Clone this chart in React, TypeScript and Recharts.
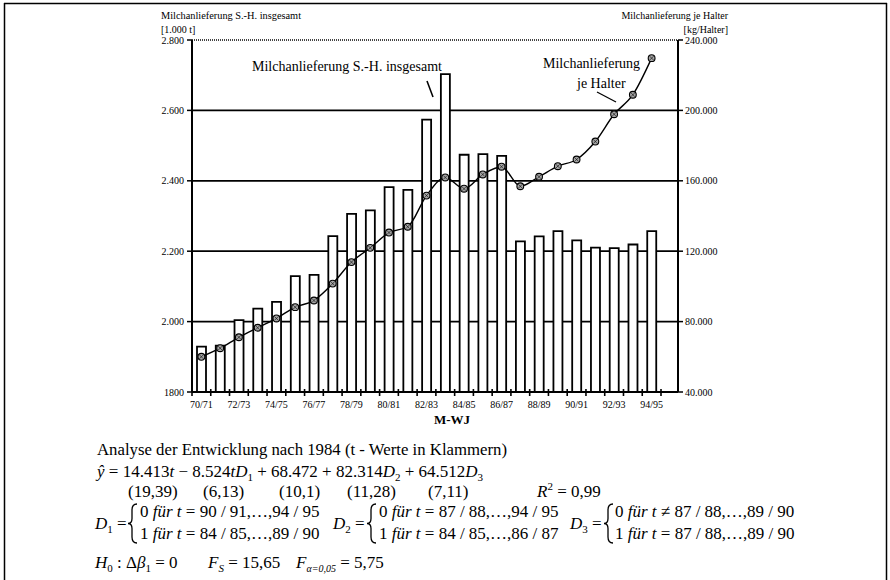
import React from "react";
import { ComposedChart, Bar, Line, XAxis, YAxis, CartesianGrid } from "recharts";

const SERIF = "'Liberation Serif', 'DejaVu Serif', serif";

const years = [
  "70/71", "71/72", "72/73", "73/74", "74/75", "75/76", "76/77", "77/78", "78/79", "79/80",
  "80/81", "81/82", "82/83", "83/84", "84/85", "85/86", "86/87", "87/88", "88/89", "89/90",
  "90/91", "91/92", "92/93", "93/94", "94/95",
];
// Milchanlieferung S.-H. insgesamt [1.000 t]
const totalDelivery = [
  1929, 1932, 2004, 2037, 2056, 2129, 2133, 2243, 2306, 2316,
  2382, 2374, 2574, 2703, 2474, 2476, 2471, 2228, 2242, 2257,
  2231, 2210, 2209, 2219, 2257,
];
// Milchanlieferung je Halter [kg/Halter]
const perHolder = [
  60000, 64900, 71100, 76500, 81800, 88200, 92000, 101600, 113800, 121900,
  130600, 133900, 151600, 161900, 155500, 163600, 168000, 156900, 162300, 168300,
  172100, 182300, 197800, 208900, 229700,
];
const leftTicks = [1800, 2000, 2200, 2400, 2600, 2800];
const leftTickLabels = ["1800", "2.000", "2.200", "2.400", "2.600", "2.800"];
const rightTicks = [40000, 80000, 120000, 160000, 200000, 240000];
const rightTickLabels = ["40.000", "80.000", "120.000", "160.000", "200.000", "240.000"];

const data = years.map((y, i) => ({ year: y, total: totalDelivery[i], holder: perHolder[i] }));

const XTick = (props: any) => {
  const { x, y, payload } = props;
  const off = payload && typeof payload.offset === "number" ? payload.offset : 9.38;
  const i = payload && typeof payload.index === "number" ? payload.index : props.index;
  const isLast = i === years.length - 1;
  return (
    <g>
      <line x1={x - off} x2={x - off} y1={y - 3} y2={y + 4} stroke="#000" strokeWidth={1.6} />
      {isLast && <line x1={x + off} x2={x + off} y1={y - 3} y2={y + 4} stroke="#000" strokeWidth={1.6} />}
      {i % 2 === 0 && (
        <text x={x} y={y + 16} textAnchor="middle" fontSize={10} fontFamily={SERIF} fill="#000">
          {payload.value}
        </text>
      )}
    </g>
  );
};

const GridLine = (p: any) => {
  const top = typeof p.y === "number" ? Math.abs(p.y1 - p.y) < 1 : p.index === leftTicks.length - 1;
  return (
    <line
      key={p.key}
      x1={p.x1}
      x2={p.x2}
      y1={p.y1}
      y2={p.y2}
      stroke={top ? "#444" : "#000"}
      strokeWidth={top ? 2 : 1.8}
      strokeDasharray={top ? "1 1" : undefined}
    />
  );
};

const Marker = (p: any) => (
  <g key={`m-${p.index}`}>
    <circle cx={p.cx} cy={p.cy} r={3.4} fill="#a5a5a5" stroke="#000" strokeWidth={1.1} />
    <line x1={p.cx - 2} y1={p.cy - 2} x2={p.cx + 2} y2={p.cy + 2} stroke="#000" strokeWidth={0.6} />
    <line x1={p.cx - 2} y1={p.cy + 2} x2={p.cx + 2} y2={p.cy - 2} stroke="#000" strokeWidth={0.6} />
  </g>
);

const Brace = ({ x, top, bottom }: { x: number; top: number; bottom: number }) => {
  const mid = (top + bottom) / 2;
  const d = `M ${x + 9} ${top} Q ${x + 4} ${top} ${x + 4} ${top + 6} L ${x + 4} ${mid - 5} Q ${x + 4} ${mid} ${x} ${mid} Q ${x + 4} ${mid} ${x + 4} ${mid + 5} L ${x + 4} ${bottom - 6} Q ${x + 4} ${bottom} ${x + 9} ${bottom}`;
  return <path d={d} fill="none" stroke="#000" strokeWidth={1.3} />;
};

const FS = 17;

const DRow = ({ x, sub, braceX, rowX, row0, row1 }: any) => (
  <g>
    <text x={x} y={529} fontSize={FS} fontFamily={SERIF} style={{ whiteSpace: "pre" }}>
      <tspan fontStyle="italic">D</tspan>
      <tspan fontSize={11} dy={4}>{sub}</tspan>
      <tspan dy={-4}> =</tspan>
    </text>
    <Brace x={braceX} top={504} bottom={543} />
    <text x={rowX} y={517} fontSize={FS} fontFamily={SERIF} style={{ whiteSpace: "pre" }}>
      <tspan>0 </tspan>
      <tspan fontStyle="italic">für t</tspan>
      <tspan>{row0}</tspan>
    </text>
    <text x={rowX} y={539} fontSize={FS} fontFamily={SERIF} style={{ whiteSpace: "pre" }}>
      <tspan>1 </tspan>
      <tspan fontStyle="italic">für t</tspan>
      <tspan>{row1}</tspan>
    </text>
  </g>
);

export default function App() {
  return (
    <div style={{ position: "absolute", left: 0, top: 0, width: 890, height: 580, background: "#fff" }}>
      <ComposedChart
        width={890}
        height={580}
        data={data}
        margin={{ top: 40, right: 162, bottom: 158, left: 152 }}
        barSize={9}
      >
        <CartesianGrid yAxisId="left" vertical={false} horizontal={GridLine as any} />
        <XAxis
          dataKey="year"
          interval={0}
          tickLine={false}
          tickSize={0}
          tickMargin={0}
          height={30}
          padding={{ left: 0, right: 17 }}
          axisLine={{ stroke: "#000", strokeWidth: 2 }}
          tick={<XTick />}
        />
        <YAxis
          yAxisId="left"
          orientation="left"
          width={40}
          domain={[1800, 2800]}
          ticks={leftTicks}
          tickFormatter={(v: number) => leftTickLabels[leftTicks.indexOf(v)]}
          axisLine={{ stroke: "#000", strokeWidth: 2 }}
          tickLine={{ stroke: "#000", strokeWidth: 1.5 }}
          tickSize={5}
          tickMargin={3}
          tick={{ fontSize: 10, fontFamily: SERIF, fill: "#000" }}
          allowDataOverflow
        />
        <YAxis
          yAxisId="right"
          orientation="right"
          width={50}
          domain={[40000, 240000]}
          ticks={rightTicks}
          tickFormatter={(v: number) => rightTickLabels[rightTicks.indexOf(v)]}
          axisLine={{ stroke: "#000", strokeWidth: 2 }}
          tickLine={{ stroke: "#000", strokeWidth: 1.5 }}
          tickSize={5}
          tickMargin={2}
          tick={{ fontSize: 10, fontFamily: SERIF, fill: "#000", textAnchor: "start" }}
          allowDataOverflow
        />
        <Bar
          yAxisId="left"
          dataKey="total"
          fill="#fff"
          stroke="#000"
          strokeWidth={1.8}
          isAnimationActive={false}
        />
        <Line
          yAxisId="right"
          dataKey="holder"
          type="monotone"
          stroke="#000"
          strokeWidth={1.4}
          dot={Marker as any}
          activeDot={false}
          isAnimationActive={false}
        />
      </ComposedChart>

      <svg
        width={890}
        height={580}
        style={{ position: "absolute", left: 0, top: 0, pointerEvents: "none" }}
        fontFamily={SERIF}
      >
        {/* frame */}
        <line x1={4.5} y1={3} x2={4.5} y2={580} stroke="#000" strokeWidth={1.5} />
        <line x1={4} y1={3.5} x2={887} y2={3.5} stroke="#000" strokeWidth={1.5} />
        <line x1={886.5} y1={3} x2={886.5} y2={580} stroke="#000" strokeWidth={1.5} />

        {/* axis titles */}
        <text x={161} y={19} fontSize={10} textLength={140} lengthAdjust="spacingAndGlyphs">
          Milchanlieferung S.-H. insgesamt
        </text>
        <text x={161} y={33} fontSize={10}>[1.000 t]</text>
        <text x={728} y={19} fontSize={10} textAnchor="end">Milchanlieferung je Halter</text>
        <text x={728} y={33} fontSize={10} textAnchor="end">[kg/Halter]</text>
        <text x={452} y={424} fontSize={13} fontWeight="bold" textAnchor="middle">M-WJ</text>

        {/* annotations */}
        <text x={252} y={71} fontSize={14} textLength={190} lengthAdjust="spacingAndGlyphs">
          Milchanlieferung S.-H. insgesamt
        </text>
        <line x1={427} y1={81} x2={433} y2={97} stroke="#000" strokeWidth={1.6} />
        <text x={543} y={68} fontSize={14} textLength={97} lengthAdjust="spacingAndGlyphs">
          Milchanlieferung
        </text>
        <text x={577} y={88} fontSize={14}>je Halter</text>
        <line x1={597} y1={92} x2={616} y2={102} stroke="#000" strokeWidth={1.3} />

        {/* analysis text */}
        <text x={97} y={455} fontSize={16.5} textLength={410} lengthAdjust="spacingAndGlyphs">
          Analyse der Entwicklung nach 1984 (t - Werte in Klammern)
        </text>
        <text x={97} y={477} fontSize={FS} style={{ whiteSpace: "pre" }}>
          <tspan fontStyle="italic">ŷ</tspan>
          <tspan> = 14.413</tspan>
          <tspan fontStyle="italic">t</tspan>
          <tspan> − 8.524</tspan>
          <tspan fontStyle="italic">tD</tspan>
          <tspan fontSize={11} dy={4}>1</tspan>
          <tspan dy={-4}> + 68.472 + 82.314</tspan>
          <tspan fontStyle="italic">D</tspan>
          <tspan fontSize={11} dy={4}>2</tspan>
          <tspan dy={-4}> + 64.512</tspan>
          <tspan fontStyle="italic">D</tspan>
          <tspan fontSize={11} dy={4}>3</tspan>
        </text>
        <g fontSize={FS}>
          <text x={128} y={497}>(19,39)</text>
          <text x={203} y={497}>(6,13)</text>
          <text x={279} y={497}>(10,1)</text>
          <text x={347} y={497}>(11,28)</text>
          <text x={428} y={497}>(7,11)</text>
          <text x={537} y={497} style={{ whiteSpace: "pre" }}>
            <tspan fontStyle="italic">R</tspan>
            <tspan fontSize={11} dy={-7}>2</tspan>
            <tspan dy={7}> = 0,99</tspan>
          </text>
        </g>
        <DRow x={95} sub="1" braceX={128} rowX={140} row0=" = 90 / 91,…,94 / 95" row1=" = 84 / 85,…,89 / 90" />
        <DRow x={333} sub="2" braceX={367} rowX={379} row0=" = 87 / 88,…,94 / 95" row1=" = 84 / 85,…,86 / 87" />
        <DRow x={570} sub="3" braceX={604} rowX={615} row0=" ≠ 87 / 88,…,89 / 90" row1=" = 87 / 88,…,89 / 90" />
        <text x={95} y={568} fontSize={FS} style={{ whiteSpace: "pre" }}>
          <tspan fontStyle="italic">H</tspan>
          <tspan fontSize={11} dy={4}>0</tspan>
          <tspan dy={-4}> : Δ</tspan>
          <tspan fontStyle="italic">β</tspan>
          <tspan fontSize={11} dy={4}>1</tspan>
          <tspan dy={-4}> = 0</tspan>
        </text>
        <text x={208} y={568} fontSize={FS} style={{ whiteSpace: "pre" }}>
          <tspan fontStyle="italic">F</tspan>
          <tspan fontSize={11} dy={4} fontStyle="italic">S</tspan>
          <tspan dy={-4}> = 15,65</tspan>
        </text>
        <text x={296} y={568} fontSize={FS} style={{ whiteSpace: "pre" }}>
          <tspan fontStyle="italic">F</tspan>
          <tspan fontSize={10} dy={4} fontStyle="italic">α=0,05</tspan>
          <tspan dy={-4}> = 5,75</tspan>
        </text>
      </svg>
    </div>
  );
}
